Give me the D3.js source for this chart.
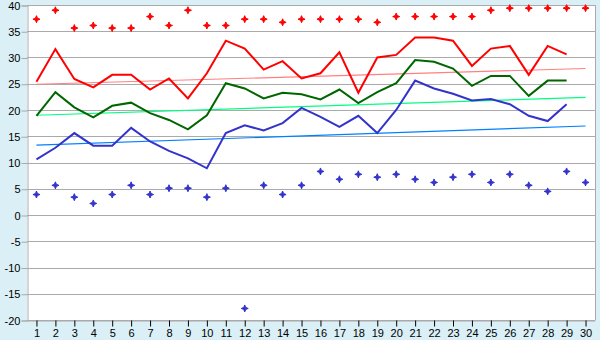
<!DOCTYPE html>
<html>
<head>
<meta charset="utf-8">
<script src="https://cdn.jsdelivr.net/npm/d3@7"></script>
<style>
  body { margin: 0; background: #daeff6; }
  svg { display: block; }
  text { font-family: "Liberation Sans", sans-serif; font-size: 11px; fill: #000; }
</style>
</head>
<body>
<svg width="600" height="340"></svg>
<script>
// days of the month
var days = d3.range(1, 31);

// red line + red diamonds (highs), green line (means), blue line + blue diamonds (lows)
var maxPoints = [37.3, 39.0, 35.6, 36.1, 35.6, 35.6, 37.8, 36.1, 39.0, 36.1,
                 36.1, 37.3, 37.3, 36.7, 37.3, 37.3, 37.3, 37.3, 36.7, 37.8,
                 37.8, 37.8, 37.8, 37.8, 39.0, 39.4, 39.4, 39.4, 39.4, 39.4];
var redLine = [25.4, 31.6, 25.9, 24.3, 26.7, 26.7, 23.9, 26.0, 22.2, 27.0,
               33.2, 31.7, 27.7, 29.3, 26.0, 27.0, 31.0, 23.3, 30.0, 30.5,
               33.8, 33.8, 33.2, 28.4, 31.7, 32.2, 26.7, 32.2, 30.6];
var greenLine = [18.9, 23.4, 20.5, 18.6, 20.8, 21.4, 19.4, 18.1, 16.3, 19.0,
                 25.1, 24.1, 22.2, 23.3, 23.0, 22.0, 23.9, 21.3, 23.4, 25.1,
                 29.5, 29.2, 27.9, 24.6, 26.5, 26.5, 22.7, 25.6, 25.6];
var blueLine = [10.6, 12.8, 15.6, 13.2, 13.2, 16.6, 14.0, 12.2, 10.8, 8.9,
                15.6, 17.1, 16.1, 17.5, 20.4, 18.7, 16.8, 18.9, 15.6, 20.0,
                25.6, 24.1, 23.1, 21.8, 22.1, 21.1, 18.9, 17.9, 21.1];
var minPoints = [3.9, 5.65, 3.4, 2.2, 3.9, 5.65, 3.9, 5.1, 5.1, 3.4,
                 5.1, -17.8, 5.65, 3.9, 5.65, 8.3, 6.8, 7.75, 7.2, 7.75,
                 6.8, 6.2, 7.2, 7.75, 6.2, 7.75, 5.65, 4.5, 8.3, 6.2];

// trend lines: value at day 1 and at day 30
var trendRed = [24.9, 27.9];
var trendGreen = [19.0, 22.4];
var trendBlue = [13.3, 16.95];

var yTicks = d3.range(-20, 41, 5);

var svg = d3.select("svg");
var plotLeft = 27, plotRight = 595, plotTop = 5, plotBottom = 320;

var x = d3.scalePoint().domain(days).range([plotLeft, plotRight]).padding(0.5);
var y = d3.scaleLinear().domain([-20, 40]).range([plotBottom, plotTop]);

// plot area
svg.append("rect")
  .attr("x", plotLeft).attr("y", plotTop)
  .attr("width", plotRight - plotLeft).attr("height", plotBottom - plotTop)
  .attr("fill", "#fff");

// grid
svg.append("g").selectAll("line").data(yTicks).enter().append("line")
  .attr("x1", plotLeft).attr("x2", plotRight)
  .attr("y1", function(d){ return Math.round(y(d)) + 0.5 })
  .attr("y2", function(d){ return Math.round(y(d)) + 0.5 })
  .attr("stroke", "#aaa");

svg.append("line")
  .attr("x1", plotRight + 0.5).attr("x2", plotRight + 0.5)
  .attr("y1", plotTop).attr("y2", plotBottom)
  .attr("stroke", "#aaa");

// y axis (plain hyphen for negatives, like the original)
var yAxis = svg.append("g")
  .attr("transform", "translate(" + (plotLeft + 0.5) + ",0.5)")
  .call(d3.axisLeft(y).tickValues(yTicks).tickSize(6).tickPadding(1)
    .tickFormat(function(d){ return String(d) }));
yAxis.selectAll("line").attr("stroke", "#aaa");
yAxis.select(".domain").attr("stroke", "#aaa");
yAxis.selectAll("text").style("font-family", "Liberation Sans").style("font-size", "11px");

// x axis
var xAxis = svg.append("g")
  .attr("transform", "translate(0," + (plotBottom + 0.5) + ")")
  .call(d3.axisBottom(x).tickSize(6).tickPadding(3).tickSizeOuter(0));
xAxis.select(".domain").attr("stroke", "#aaa");
xAxis.selectAll("line").attr("stroke", "#000");
xAxis.selectAll("text").style("font-family", "Liberation Sans").style("font-size", "11px");

// trend lines
var trends = [
  { v: trendRed, color: "#ff8080" },
  { v: trendGreen, color: "#00ff80" },
  { v: trendBlue, color: "#0080ff" }
];
svg.append("g").selectAll("line").data(trends).enter().append("line")
  .attr("x1", x(1)).attr("x2", x(30))
  .attr("y1", function(d){ return y(d.v[0]) })
  .attr("y2", function(d){ return y(d.v[1]) })
  .attr("stroke", function(d){ return d.color })
  .attr("stroke-width", 1.2);

// main lines
var line = d3.line()
  .x(function(d, i){ return x(days[i]) })
  .y(function(d){ return y(d) });

var series = [
  { v: redLine, color: "#ff0000" },
  { v: greenLine, color: "#006600" },
  { v: blueLine, color: "#3333cc" }
];
svg.append("g").selectAll("path").data(series).enter().append("path")
  .attr("d", function(d){ return line(d.v) })
  .attr("fill", "none")
  .attr("stroke", function(d){ return d.color })
  .attr("stroke-width", 2);

// diamond markers
var diamond = "M0,-3.5L1,-1L3.5,0L1,1L0,3.5L-1,1L-3.5,0L-1,-1Z";

svg.append("g").selectAll("path").data(maxPoints).enter().append("path")
  .attr("d", diamond)
  .attr("transform", function(d, i){ return "translate(" + x(days[i]) + "," + y(d) + ")" })
  .attr("fill", "#ff0000")
  .attr("stroke", "#ff0000")
  .attr("stroke-width", 1);

svg.append("g").selectAll("path").data(minPoints).enter().append("path")
  .attr("d", diamond)
  .attr("transform", function(d, i){ return "translate(" + x(days[i]) + "," + y(d) + ")" })
  .attr("fill", "#3333cc")
  .attr("stroke", "#3333cc")
  .attr("stroke-width", 1);
</script>
</body>
</html>
